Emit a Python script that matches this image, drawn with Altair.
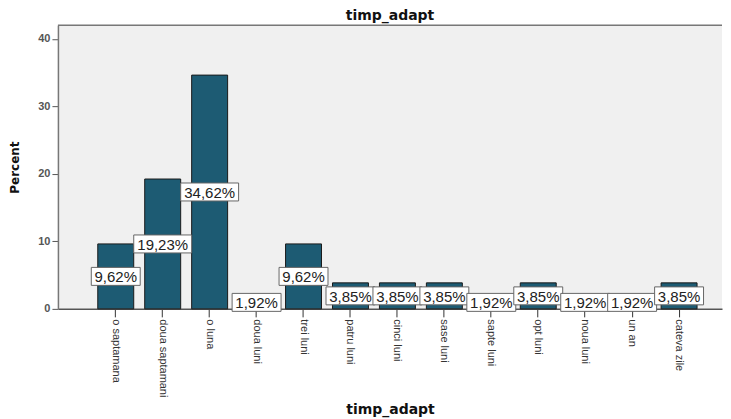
import altair as alt
import pandas as pd

categories = ["o saptamana", "doua saptamani", "o luna", "doua luni", "trei luni",
              "patru luni", "cinci luni", "sase luni", "sapte luni", "opt luni",
              "noua luni", "un an", "cateva zile"]
values = [9.62, 19.23, 34.62, 1.92, 9.62, 3.85, 3.85, 3.85, 1.92, 3.85, 1.92, 1.92, 3.85]
labels = ["9,62%", "19,23%", "34,62%", "1,92%", "9,62%", "3,85%", "3,85%", "3,85%",
          "1,92%", "3,85%", "1,92%", "1,92%", "3,85%"]
y_ticks = [0, 10, 20, 30, 40]

df = pd.DataFrame({"cat": categories, "value": values, "label": labels})

W, H = 665, 284
FONT = "Liberation Sans"
BOLD = "DejaVu Sans"

xscale = alt.Scale(paddingInner=0.234, paddingOuter=0.69, align=0.615)
x_enc = alt.X(
    "cat:N", sort=categories, scale=xscale,
    axis=alt.Axis(title="timp_adapt", labelAngle=90, labelFontSize=11, labelFont=FONT,
                  labelColor="#333", labelPadding=2, tickSize=8, tickColor="#333",
                  domainColor="#555", domainWidth=1.5, titleFont=BOLD, titleFontSize=14,
                  titleFontWeight="bold", titleColor="#111", titlePadding=6, labelLimit=200),
)
yscale = alt.Scale(domain=[0, 42], nice=False)

base = alt.Chart(df)

bars = base.mark_bar(color="#1d5b73", stroke="#1a1a1a", strokeWidth=1).encode(
    x=x_enc,
    y=alt.Y("value:Q", scale=yscale,
            axis=alt.Axis(title="Percent", values=y_ticks, grid=False, labelFontSize=11,
                          labelFont=FONT, labelColor="#555", labelFontWeight="bold",
                          tickSize=6, tickColor="#555", domainColor="#777", domainWidth=1.5,
                          titleFont=BOLD, titleFontSize=12, titleFontWeight="bold",
                          titleColor="#111", titlePadding=16)),
)

path5 = "M-2.45,-0.9L2.45,-0.9L2.45,0.9L-2.45,0.9Z"
path6 = "M-2.9,-0.9L2.9,-0.9L2.9,0.9L-2.9,0.9Z"

boxes = base.transform_calculate(mid="datum.value / 2").mark_point(
    filled=True, fill="white", stroke="#666", strokeWidth=1, opacity=1, size=400
).encode(
    x=alt.X("cat:N", sort=categories, scale=xscale),
    y=alt.Y("mid:Q", scale=yscale),
    shape=alt.condition("datum.value >= 10", alt.value(path6), alt.value(path5)),
)

texts = base.transform_calculate(mid="datum.value / 2").mark_text(
    font=FONT, fontSize=15, color="#222", baseline="middle", dy=1
).encode(
    x=alt.X("cat:N", sort=categories, scale=xscale),
    y=alt.Y("mid:Q", scale=yscale),
    text="label:N",
)

frame = alt.Chart(pd.DataFrame({"a": [0]})).mark_rule(color="#777", strokeWidth=1.5).encode(
    x=alt.value(0), x2=alt.value(W), y=alt.value(0)
)

chart = alt.layer(bars, boxes, texts, frame).properties(
    width=W, height=H,
    title=alt.Title("timp_adapt", font=BOLD, fontSize=14, fontWeight="bold", color="#111", offset=2),
    padding={"left": 0, "top": 0, "right": 0, "bottom": 0},
).configure_view(fill="#f0f0f0", stroke=None)

chart.save("out.html", embed_options={"renderer": "svg", "actions": False})
